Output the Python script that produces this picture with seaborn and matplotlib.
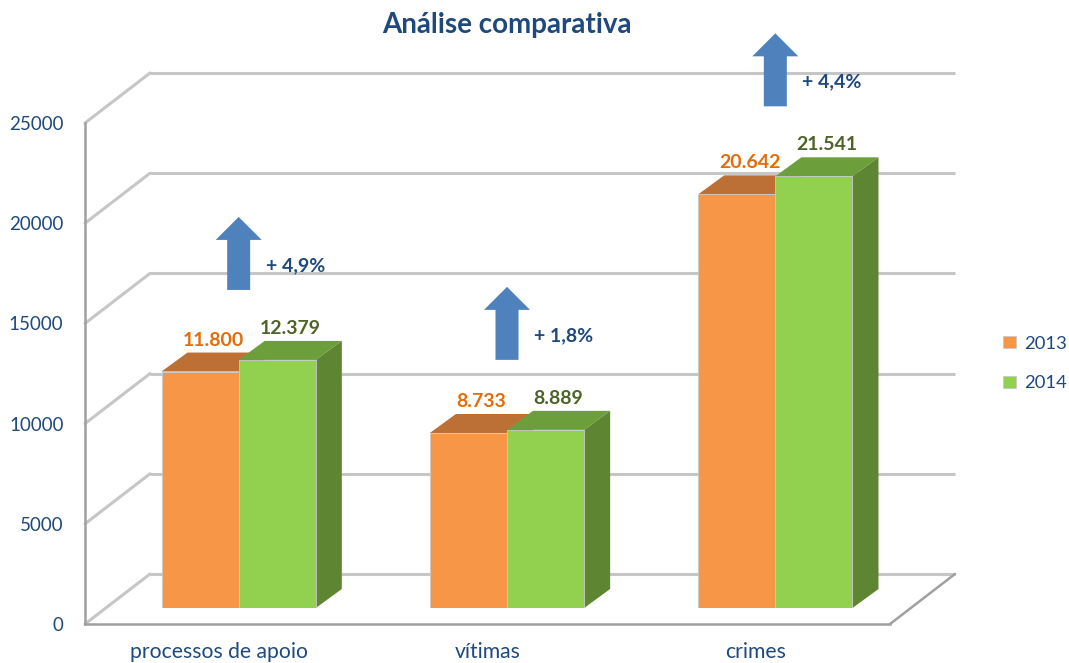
import numpy as np
import pandas as pd
import matplotlib
matplotlib.use("Agg")
import matplotlib.pyplot as plt
import seaborn as sns
from matplotlib.patches import Polygon, ConnectionPatch

# dados
categories = ["processos de apoio", "vítimas", "crimes"]
years = ["2013", "2014"]
values_2013 = [11800, 8733, 20642]
values_2014 = [12379, 8889, 21541]
y_ticks = [0, 5000, 10000, 15000, 20000, 25000]

df = pd.DataFrame({
    "categoria": categories * 2,
    "ano": [years[0]] * len(categories) + [years[1]] * len(categories),
    "valor": values_2013 + values_2014,
})

sns.set_style("white")
plt.rcParams["font.family"] = ["Lato", "DejaVu Sans"]

front_col = {"2013": "#F79646", "2014": "#92D050"}
top_col = {"2013": "#BD7035", "2014": "#6C9F3B"}
side_col = {"2013": "#B0662C", "2014": "#5E8532"}
label_col = {"2013": "#E46C0A", "2014": "#4F6228"}
text_blue = "#1F497D"
arrow_blue = "#4F81BD"
grid_gray = "#C6C6C6"
axis_gray = "#A0A0A0"

W, H = 1069, 663
fig = plt.figure(figsize=(W / 100, H / 100), dpi=100)


def rect(left, base):
    # left / base in pixels from top-left corner
    return [left / W, (H - base) / H, 805 / W, 501 / H]


# fake 3D: back wall, front floor edge, bar plane
ax_back = fig.add_axes(rect(150, 574), zorder=0)
ax_front = fig.add_axes(rect(85, 624), zorder=1)
ax = fig.add_axes(rect(104.5, 608), zorder=2)

xlim = (-0.5, len(categories) - 0.5)
ylim = (0, y_ticks[-1])
for a in (ax_back, ax_front, ax):
    a.set_xlim(*xlim)
    a.set_ylim(*ylim)
    a.patch.set_alpha(0)

# back wall grid
ax_back.axis("off")
ax_back.hlines(y_ticks, xlim[0], xlim[1], color=grid_gray, lw=2.2, clip_on=False)

# front axis
for s in ["top", "right"]:
    ax_front.spines[s].set_visible(False)
for s in ["left", "bottom"]:
    ax_front.spines[s].set_color(axis_gray)
    ax_front.spines[s].set_linewidth(1.8)
ax_front.set_yticks(y_ticks)
ax_front.set_yticklabels([str(t) for t in y_ticks])
ax_front.tick_params(axis="y", length=5, width=1.2, color=axis_gray,
                     labelcolor=text_blue, labelsize=13.5, pad=10.5)
ax_front.set_xticks(range(len(categories)))
ax_front.set_xticklabels(categories)
ax_front.set_xticks(np.arange(len(categories) + 1) - 0.5, minor=True)
ax_front.tick_params(axis="x", which="major", length=0, labelcolor=text_blue,
                     labelsize=15.2, pad=13)
ax_front.tick_params(axis="x", which="minor", length=5, width=1.2, color=axis_gray)

# diagonals between front and back
for t in y_ticks:
    fig.add_artist(ConnectionPatch(xyA=(xlim[0], t), coordsA=ax_front.transData,
                                   xyB=(xlim[0], t), coordsB=ax_back.transData,
                                   color=grid_gray, lw=2.2, zorder=0.5))
fig.add_artist(ConnectionPatch(xyA=(xlim[1], 0), coordsA=ax_front.transData,
                               xyB=(xlim[1], 0), coordsB=ax_back.transData,
                               color=axis_gray, lw=1.8, zorder=0.5))

# bars
sns.barplot(data=df, x="categoria", y="valor", hue="ano", palette=front_col,
            saturation=1, width=0.575, errorbar=None, edgecolor="#C8C8C8",
            linewidth=0.6, ax=ax)
ax.set_xlim(*xlim)
ax.set_ylim(*ylim)
ax.axis("off")


def shift(x, y, dx, dy):
    p = ax.transData.transform((x, y)) + np.array([dx, dy])
    return ax.transData.inverted().transform(p)


depth = (26, 19)
for k, (cont, yr) in enumerate(zip(ax.containers, years)):
    for bar in cont:
        x0, w, h = bar.get_x(), bar.get_width(), bar.get_height()
        bar.set_zorder(3 + 2 * k)
        top = [(x0, h), (x0 + w, h), shift(x0 + w, h, *depth), shift(x0, h, *depth)]
        side = [(x0 + w, 0), (x0 + w, h), shift(x0 + w, h, *depth), shift(x0 + w, 0, *depth)]
        ax.add_patch(Polygon(top, closed=True, fc=top_col[yr], ec="none", zorder=2 + 2 * k))
        ax.add_patch(Polygon(side, closed=True, fc=side_col[yr], ec="none", zorder=2 + 2 * k))
        ax.annotate(f"{int(h):,}".replace(",", "."), xy=(x0 + w / 2, h),
                    xytext=(13, 26), textcoords="offset pixels", ha="center",
                    va="baseline", fontsize=14, fontweight="bold",
                    color=label_col[yr], zorder=10)

# arrows with growth
for i, (a, b) in enumerate(zip(values_2013, values_2014)):
    top_v = max(a, b)
    pts = [(-11.5, 70), (11.5, 70), (11.5, 120), (23, 120), (0, 143),
           (-23, 120), (-11.5, 120)]
    ax.add_patch(Polygon([shift(i, top_v, dx, dy) for dx, dy in pts], closed=True,
                         fc=arrow_blue, ec="none", zorder=10, clip_on=False))
    pct = (b / a - 1) * 100
    ax.annotate(f"+ {pct:.1f}%".replace(".", ","), xy=(i, top_v),
                xytext=(27, 89), textcoords="offset pixels", ha="left",
                va="baseline", fontsize=14, fontweight="bold", color=text_blue,
                annotation_clip=False)

sns.move_legend(ax, "center left", bbox_to_anchor=(1003 / W, (H - 363.5) / H),
                bbox_transform=fig.transFigure, frameon=False, title=None,
                borderaxespad=0, borderpad=0, handlelength=0.7, handleheight=0.65,
                handletextpad=0.45, labelspacing=1.27, fontsize=13.3,
                labelcolor=text_blue)

fig.text(507 / W, (H - 33) / H, "Análise comparativa", ha="center", va="baseline",
         fontsize=20, fontweight="bold", color=text_blue)

fig.savefig("out.png", dpi=100)
